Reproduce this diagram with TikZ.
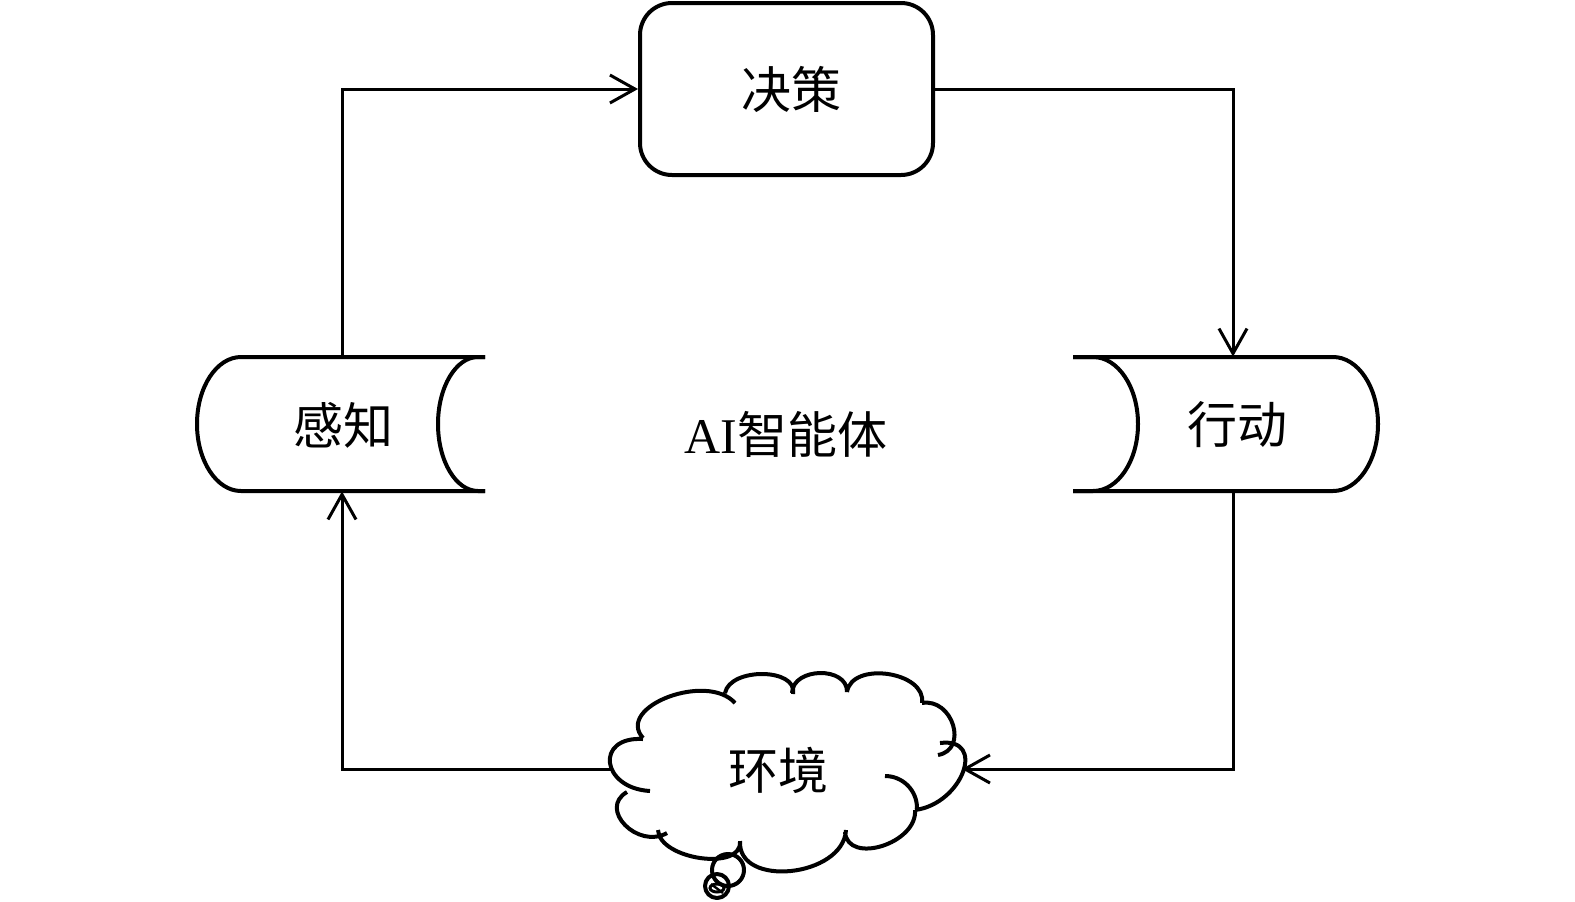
\documentclass[tikz,border=0pt]{standalone}
\usepackage{fontspec}
\setmainfont{Liberation Serif}
\newfontfamily\cjk{Noto Sans CJK SC}
\usetikzlibrary{arrows.meta}
\begin{document}
\begin{tikzpicture}[x=0.5pt,y=-0.5pt,
  shp/.style={line width=2pt, line join=round},
  conn/.style={line width=1.5pt, -{Straight Barb[length=12.5pt,width=14pt]}},
  lbl/.style={font=\fontsize{25pt}{30pt}\selectfont\cjk, inner sep=0pt},
  ghost/.style={draw=none, inner sep=0pt}
]
\useasboundingbox (0,0) rectangle (1575,901);

% decision box
\node[shp, draw, rounded corners=16pt, minimum width=146.5pt, minimum height=86pt, inner sep=0pt] (dec) at (786.5,89) {};
\node[lbl] (dect) at (791,89) {决策};

% perception shape
\node[ghost, minimum width=144pt, minimum height=67pt] (perc) at (342,424) {};
\draw[shp] (485,357) -- (241,357) arc[start angle=270, end angle=90, x radius=44, y radius=67] -- (485,491);
\draw[shp] (485,357) -- (478,357) arc[start angle=270, end angle=90, x radius=40, y radius=67] -- (485,491);
\node[lbl] (perct) at (343,425) {感知};

% action shape
\node[ghost, minimum width=145pt, minimum height=67pt] (act) at (1233,424) {};
\draw[shp] (1073,357) -- (1333,357) arc[start angle=-90, end angle=90, x radius=45, y radius=67] -- (1073,491);
\draw[shp] (1073,357) -- (1093,357) arc[start angle=-90, end angle=90, x radius=45, y radius=67] -- (1073,491);
\node[lbl] (actt) at (1237,425) {行动};

% agent label
\node[font=\fontsize{25pt}{30pt}\selectfont, inner sep=0pt] (agent) at (786,434) {AI{\cjk 智能体}};

% environment cloud
\node[ghost, minimum width=175pt, minimum height=99pt] (env) at (786.5,769) {};
\draw[shp]
  (643,739) .. controls (594.3,736.3) and (601.3,788.3) .. (650,791)
  (627,792) .. controls (597.7,808.7) and (637.7,849.7) .. (667,833)
  (658,830) .. controls (659.3,859.3) and (741.3,871.3) .. (740,842)
  (740,841) .. controls (737.3,888.3) and (843.3,877.3) .. (846,830)
  (845,832) .. controls (847.7,865.3) and (917.7,843.3) .. (915,810)
  (885,776) .. controls (902.7,776) and (917,790.3) .. (917,808)
  (940,743) .. controls (987.3,737) and (962.3,804) .. (915,810)
  (922,703) .. controls (952.7,697.7) and (968.7,749.7) .. (938,755)
  (847,692) .. controls (851.7,660.7) and (926.7,671.7) .. (922,703)
  (792,693) .. controls (792.7,667) and (847.7,666) .. (847,692)
  (725,693) .. controls (730.3,667) and (798.3,668) .. (793,694)
  (735,703) .. controls (707,671.7) and (615,706.7) .. (643,738);
\draw[shp] (728,870) circle[radius=16];
\draw[shp] (717,886) circle[radius=12];
\draw[line width=1.5pt] (717,888) ellipse[x radius=7, y radius=4];
\draw[line width=1.2pt] (711,884) -- (723,893);
\node[lbl] (envt) at (778,770) {环境};

% connectors
\draw[conn] (perc.north) |- (dec.west);
\draw[conn] (dec.east) -| (act.north);
\draw[conn] (act.south) |- (env.east);
\draw[conn] (env.west) -| (perc.south);
\end{tikzpicture}
\end{document}
